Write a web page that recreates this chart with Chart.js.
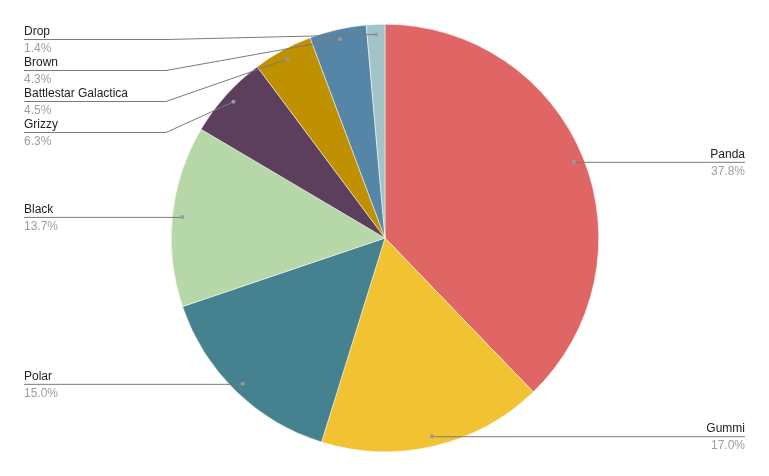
<!DOCTYPE html>
<html>
<head>
<meta charset="utf-8">
<script src="https://cdn.jsdelivr.net/npm/chart.js@4"></script>
<style>
  body { margin: 0; background: #fff; }
</style>
</head>
<body>
<canvas id="grafico" width="769" height="476"></canvas>
<script>
// datos
const categorias = ['Panda', 'Gummi', 'Polar', 'Black', 'Grizzy', 'Battlestar Galactica', 'Brown', 'Drop'];
const valores = [37.8, 17.0, 15.0, 13.7, 6.3, 4.5, 4.3, 1.4];
const colores = ['#e06666', '#f1c232', '#45818e', '#b6d7a8', '#5b3f5c', '#bf9000', '#5686a7', '#a2c4c9'];

// etiquetas con lineas guia
const etiquetasPlugin = {
    id: 'etiquetas',
    afterDraw(chart) {
        const c = chart.ctx;
        const meta = chart.getDatasetMeta(0);
        const total = valores.reduce((a, b) => a + b, 0);
        const izq = [], der = [];

        meta.data.forEach((arc, i) => {
            const p = arc.getProps(['x', 'y', 'startAngle', 'endAngle', 'outerRadius'], true);
            const mid = (p.startAngle + p.endAngle) / 2;
            const r = p.outerRadius * 0.953;
            const item = {
                i: i,
                px: p.x + Math.cos(mid) * r,
                py: p.y + Math.sin(mid) * r
            };
            (Math.cos(mid) < 0 ? izq : der).push(item);
        });

        [izq, der].forEach(lista => {
            lista.sort((a, b) => a.py - b.py);
            let ultimo = -Infinity;
            lista.forEach(it => {
                it.ly = Math.max(it.py, 39, ultimo + 31);
                ultimo = it.ly;
            });
        });

        c.save();
        c.lineWidth = 1;
        c.strokeStyle = '#7a7a7a';

        const dibujar = (it, lado) => {
            const xTexto = lado === 'izq' ? 24 : 745;
            const xCodo = lado === 'izq' ? 166 : 603;
            c.beginPath();
            c.moveTo(xTexto, it.ly + 0.5);
            if (Math.abs(it.ly - it.py) < 2) {
                c.lineTo(it.px, it.ly + 0.5);
            } else {
                c.lineTo(xCodo, it.ly + 0.5);
                c.lineTo(it.px, it.py);
            }
            c.stroke();

            c.fillStyle = '#999999';
            c.beginPath();
            c.arc(it.px, it.py, 2, 0, Math.PI * 2);
            c.fill();

            c.font = '12px "Liberation Sans", Arial, sans-serif';
            c.textAlign = lado === 'izq' ? 'left' : 'right';
            c.textBaseline = 'alphabetic';
            c.fillStyle = '#222222';
            c.fillText(categorias[it.i], xTexto, it.ly - 4);
            c.fillStyle = '#9e9e9e';
            c.fillText((valores[it.i] / total * 100).toFixed(1) + '%', xTexto, it.ly + 13);
        };

        izq.forEach(it => dibujar(it, 'izq'));
        der.forEach(it => dibujar(it, 'der'));
        c.restore();
    }
};

const grafico = new Chart(document.getElementById('grafico'), {
    type: 'pie',
    data: {
        labels: categorias,
        datasets: [{
            data: valores,
            backgroundColor: colores,
            borderColor: '#ffffff',
            borderWidth: 0.5
        }]
    },
    options: {
        responsive: false,
        animation: false,
        layout: {
            padding: { top: 24, bottom: 24, left: 171, right: 170 }
        },
        plugins: {
            legend: { display: false },
            tooltip: { enabled: false }
        }
    },
    plugins: [etiquetasPlugin]
});
</script>
</body>
</html>
